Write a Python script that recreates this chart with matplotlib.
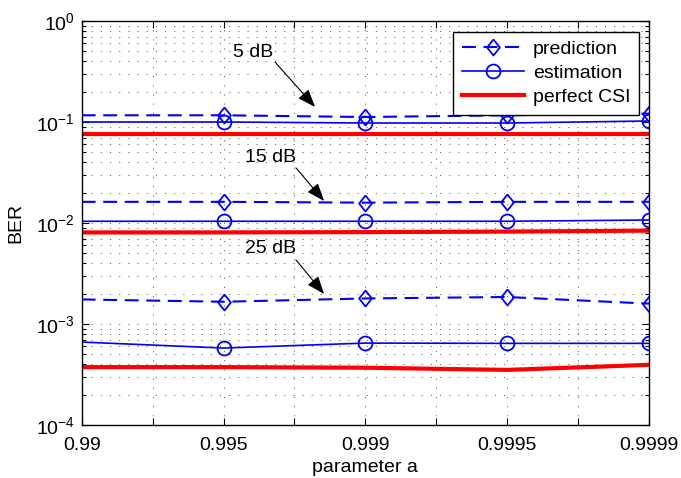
import numpy as np
import matplotlib
matplotlib.use("Agg")
import matplotlib.pyplot as plt
from matplotlib.ticker import FixedLocator, LogLocator, NullFormatter

plt.rcParams['font.family'] = ['Liberation Sans', 'DejaVu Sans']
plt.rcParams['mathtext.fontset'] = 'custom'
plt.rcParams['mathtext.rm'] = 'Liberation Sans'
plt.rcParams['mathtext.it'] = 'Liberation Sans'
plt.rcParams['mathtext.default'] = 'regular'
plt.rcParams['lines.scale_dashes'] = False

# ---- data ----
a_labels = ['0.99', '0.995', '0.999', '0.9995', '0.9999']

pred_5 = [0.1165, 0.1165, 0.112, 0.1165, 0.121]
est_5 = [0.100, 0.100, 0.0977, 0.0977, 0.1023]
csi_5 = [0.0754, 0.0754, 0.0754, 0.0754, 0.0754]

pred_15 = [0.0162, 0.0162, 0.0159, 0.0162, 0.0162]
est_15 = [0.0104, 0.0104, 0.0104, 0.0104, 0.0107]
csi_15 = [0.00807, 0.00807, 0.00812, 0.00822, 0.0084]

pred_25 = [0.00175, 0.00166, 0.00179, 0.00185, 0.00159]
est_25 = [0.000662, 0.000578, 0.000647, 0.000643, 0.000643]
csi_25 = [0.000374, 0.000374, 0.000369, 0.000351, 0.000394]

snr_labels = ['5 dB', '15 dB', '25 dB']
# annotation anchors (x index, BER) for text, arrow start, arrow tip
text_pos = [(1.21, 0.49), (1.33, 0.045), (1.33, 0.00565)]
arrow_start = [(1.363, 0.392), (1.511, 0.0351), (1.511, 0.00431)]
arrow_tip = [(1.645, 0.141), (1.709, 0.0165), (1.709, 0.00198)]

x = np.arange(len(a_labels))

fig = plt.figure(figsize=(6.81, 4.78), dpi=100)
ax = fig.add_axes([0.120, 0.1109, 0.833, 0.8452])

diamond = [(0, 1), (0.8, 0), (0, -1), (-0.8, 0), (0, 1)]
blue = '#0000ff'

for i, (p, e, c) in enumerate([(pred_5, est_5, csi_5), (pred_15, est_15, csi_15), (pred_25, est_25, csi_25)]):
    ax.plot(x, p, color=blue, lw=1.5, linestyle=(0, (10, 5.5)), marker=diamond, ms=11.5,
            mfc='none', mec=blue, mew=1.3, markevery=[1, 2, 3, 4],
            label='prediction' if i == 0 else None)
    ax.plot(x, e, color=blue, lw=1.2, marker='o', ms=10, mfc='none', mec=blue, mew=1.3,
            markevery=[1, 2, 3, 4], label='estimation' if i == 0 else None)
    ax.plot(x, c, color='#ff0000', lw=3.0, label='perfect CSI' if i == 0 else None)

ax.set_yscale('log')
ax.set_ylim(1e-4, 1)
ax.set_xlim(x[0], x[-1])

half = np.arange(0, len(a_labels) - 0.5, 0.5)
ax.xaxis.set_major_locator(FixedLocator(half))
ax.set_xticklabels([a_labels[int(v)] if float(v).is_integer() else '' for v in half])

ax.yaxis.set_major_locator(LogLocator(base=10, numticks=10))
ax.yaxis.set_minor_locator(LogLocator(base=10, subs=np.arange(2, 10), numticks=20))
ax.yaxis.set_minor_formatter(NullFormatter())

ax.tick_params(which='both', direction='in', top=True, right=True, labelsize=14, width=0.8)
ax.tick_params(which='major', length=5)
ax.tick_params(which='minor', length=3)
ax.tick_params(axis='x', pad=9)
ax.tick_params(axis='y', pad=5)

grid_kw = dict(color='#4a4a4a', lw=0.6, linestyle=(0, (0.8, 5.8)))
ax.grid(True, which='major', axis='both', **grid_kw)
ax.grid(True, which='minor', axis='y', **grid_kw)
ax.set_axisbelow(True)

for s in ax.spines.values():
    s.set_linewidth(1.0)

ax.set_xlabel('parameter a', fontsize=14, labelpad=3)
ax.set_ylabel('BER', fontsize=14, labelpad=8)

for lab, tp, st, tip in zip(snr_labels, text_pos, arrow_start, arrow_tip):
    ax.text(tp[0], tp[1], lab, fontsize=14, ha='center', va='center')
    ax.annotate('', xy=tip, xytext=st,
                arrowprops=dict(arrowstyle='-|>,head_length=1.1,head_width=0.42',
                                color='black', lw=0.8, shrinkA=0, shrinkB=0))

leg = ax.legend(loc='upper right', bbox_to_anchor=(0.983, 0.973), borderaxespad=0,
                fontsize=14, fancybox=False, framealpha=1, edgecolor='black',
                handlelength=3.2, labelspacing=0.32, borderpad=0.45, handletextpad=0.45)
leg.get_frame().set_linewidth(1.0)

fig.savefig('out.png', dpi=100)
